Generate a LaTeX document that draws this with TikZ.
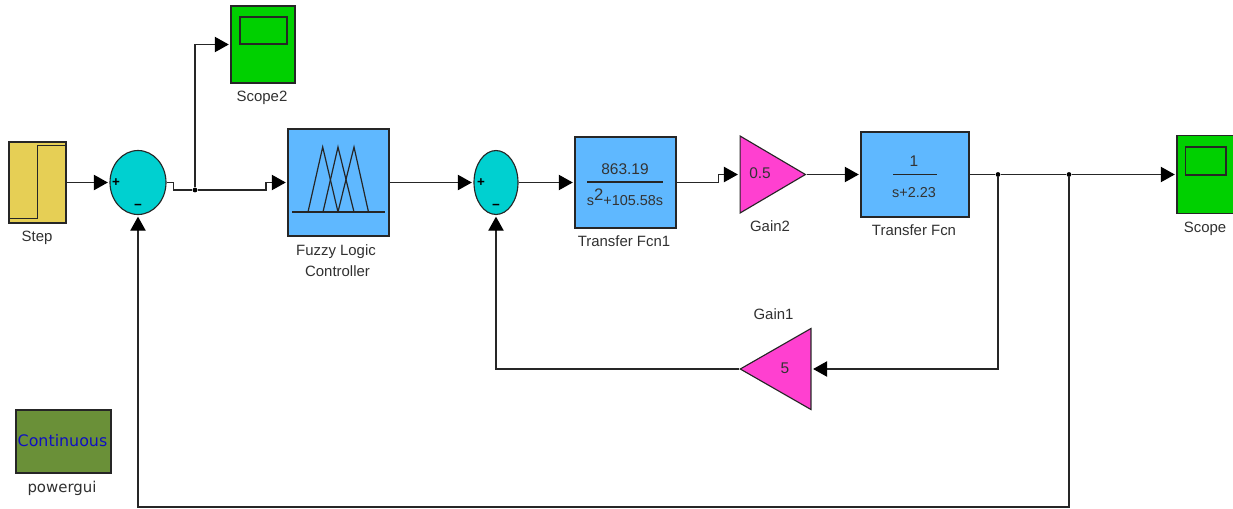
\documentclass[tikz,border=0pt]{standalone}
\usepackage{fontspec}
\setmainfont{Liberation Sans}
\newfontfamily\guifont{DejaVu Sans}
\usepackage{tikz}
\usetikzlibrary{shapes.geometric, arrows.meta}
\definecolor{stepYellow}{HTML}{E6CF55}
\definecolor{sumCyan}{HTML}{00D0D0}
\definecolor{scopeGreen}{HTML}{00D000}
\definecolor{fcnBlue}{HTML}{5FB8FF}
\definecolor{gainPink}{HTML}{FF40D0}
\definecolor{guiOlive}{HTML}{6A9038}
\definecolor{guiBlue}{HTML}{1010C0}
\definecolor{labelGrey}{HTML}{303030}
\tikzstyle{block} = [rectangle, draw=black!85, line width=0.95pt, inner sep=0pt]
\tikzstyle{sumNode} = [ellipse, draw=black!85, line width=0.85pt, fill=sumCyan, inner sep=0pt]
\tikzstyle{gainNode} = [isosceles triangle, isosceles triangle stretches, draw=black!85, line width=0.85pt, fill=gainPink, inner sep=0pt, anchor=lower side]
\tikzstyle{solidNode} = [circle, minimum size=3.6pt, inner sep=0pt, fill=black]
\tikzstyle{link} = [line width=0.9pt, black!85, -]
\tikzstyle{arrow} = [line width=0.9pt, black!85, -{Triangle[length=10.5pt,width=11.5pt,color=black]}, shorten >=1.2pt]
\tikzstyle{glyph} = [line width=0.9pt, black!85]
\tikzstyle{caption} = [inner sep=0pt, anchor=base, text=labelGrey, font=\fontsize{11.2}{13}\selectfont]
\tikzstyle{value} = [inner sep=0pt, anchor=base, text=black!80, font=\fontsize{11.6}{13}\selectfont]
\tikzstyle{denom} = [inner sep=0pt, anchor=base, text=black!80, font=\fontsize{10.8}{13}\selectfont]
\tikzstyle{sign} = [inner sep=0pt, text=black, font=\bfseries\fontsize{10}{12}\selectfont]
\begin{document}
\begin{tikzpicture}[x=0.75pt, y=-0.75pt]
    \clip (0,0) rectangle (1233,508);
    % blocks
    \node (step) [block, fill=stepYellow, minimum width=42.75pt, minimum height=60.75pt] at (37.5,182.5) {};
    \node (sumA) [sumNode, minimum width=42pt, minimum height=48pt] at (138,182.5) {};
    \node (scopeTwo) [block, fill=scopeGreen, minimum width=48pt, minimum height=57.75pt] at (263,44.5) {};
    \node (fuzzy) [block, fill=fcnBlue, minimum width=75.75pt, minimum height=80.25pt] at (338.5,182.5) {};
    \node (sumB) [sumNode, minimum width=33pt, minimum height=48pt] at (496,182.5) {};
    \node (fcnOne) [block, fill=fcnBlue, minimum width=75.75pt, minimum height=68.25pt] at (625.5,182.5) {};
    \node (gainTwo) [gainNode, minimum width=57.75pt, minimum height=49pt] at (739.5,174.5) {};
    \node (fcn) [block, fill=fcnBlue, minimum width=81pt, minimum height=63.75pt] at (915,174.5) {};
    \node (scope) [block, fill=scopeGreen, minimum width=48pt, minimum height=59pt] at (1209,174.5) {};
    \node (gainOne) [gainNode, shape border rotate=180, minimum width=60.75pt, minimum height=53pt] at (811.5,369) {};
    \node (gui) [block, fill=guiOlive, minimum width=71.25pt, minimum height=47.25pt] at (63.5,441.5) {};
    % block glyphs
    \draw [glyph, line width=1.2pt] (9,218.5) -- (37.5,218.5) -- (37.5,145.5) -- (66,145.5);
    \draw [glyph] (240,17) rectangle (287,44);
    \draw [glyph] (1185.5,147) rectangle (1226,175);
    \draw [glyph] (292,212) -- (385,212);
    \draw [glyph] (308,212) -- (322.7,147) -- (338,212);
    \draw [glyph] (323,212) -- (338,147) -- (354,212);
    \draw [glyph] (338,212) -- (354,147) -- (368.5,212);
    \draw [glyph] (587,182) -- (663,182);
    \draw [glyph] (893,174.5) -- (937,174.5);
    % texts
    \node (plusA) [sign] at (116,182.5) {+};
    \node (minusA) [sign] at (138,207) {−};
    \node (plusB) [sign] at (481,182.5) {+};
    \node (minusB) [sign] at (496,207) {−};
    \node (numOne) [value] at (625,174) {863.19};
    \node (denOne) [denom] at (625,205) {s\raisebox{3.5pt}{\fontsize{12.5}{13}\selectfont 2}+105.58s};
    \node (numFcn) [value] at (914,166) {1};
    \node (denFcn) [denom] at (914,197) {s+2.23};
    \node (valTwo) [value] at (760,178) {0.5};
    \node (valOne) [value] at (785,373) {5};
    \node (guiText) [inner sep=0pt, anchor=base, text=guiBlue, font=\guifont\fontsize{11.9}{13}\selectfont] at (62.5,446.5) {Continuous};
    \node (stepLabel) [caption] at (37,241) {Step};
    \node (scopeTwoLabel) [caption] at (262,101.5) {Scope2};
    \node (fuzzyLabel) [caption] at (336,255) {Fuzzy Logic};
    \node (fuzzyLabelTwo) [caption] at (337.5,276) {Controller};
    \node (fcnOneLabel) [caption] at (624,246.5) {Transfer Fcn1};
    \node (gainTwoLabel) [caption] at (770,231.5) {Gain2};
    \node (fcnLabel) [caption] at (914,235) {Transfer Fcn};
    \node (scopeLabel) [caption] at (1205,232.5) {Scope};
    \node (gainOneLabel) [caption] at (773.5,319.5) {Gain1};
    \node (guiLabel) [inner sep=0pt, anchor=base, text=labelGrey, font=\guifont\fontsize{11.2}{13}\selectfont] at (62,492) {powergui};
    % junctions
    \node (jctA) [solidNode] at (195,190) {};
    \node (jctB) [solidNode] at (998,174.5) {};
    \node (jctC) [solidNode] at (1069,174.5) {};
    % connectors
    \draw [arrow] (step.east) -- (sumA.west);
    \draw [link] (sumA.east) -- ++(7,0) |- (jctA);
    \draw [arrow] (jctA) |- (scopeTwo.west);
    \draw [arrow] (jctA) -- ++(71,0) |- (fuzzy.west);
    \draw [arrow] (fuzzy.east) -- (sumB.west);
    \draw [arrow] (sumB.east) -- (fcnOne.west);
    \draw [arrow] (fcnOne.east) -- ++(42,0) |- (gainTwo.lower side);
    \draw [arrow] (gainTwo.apex) -- (fcn.west);
    \draw [link] (fcn.east) -- (jctB);
    \draw [link] (jctB) -- (jctC);
    \draw [arrow] (jctC) -- (scope.west);
    \draw [arrow] (jctB) |- (gainOne.lower side);
    \draw [arrow] (gainOne.apex) -| (sumB.south);
    \draw [arrow] (jctC) |- ++(-931,332.5) -- (sumA.south);
\end{tikzpicture}
\end{document}
